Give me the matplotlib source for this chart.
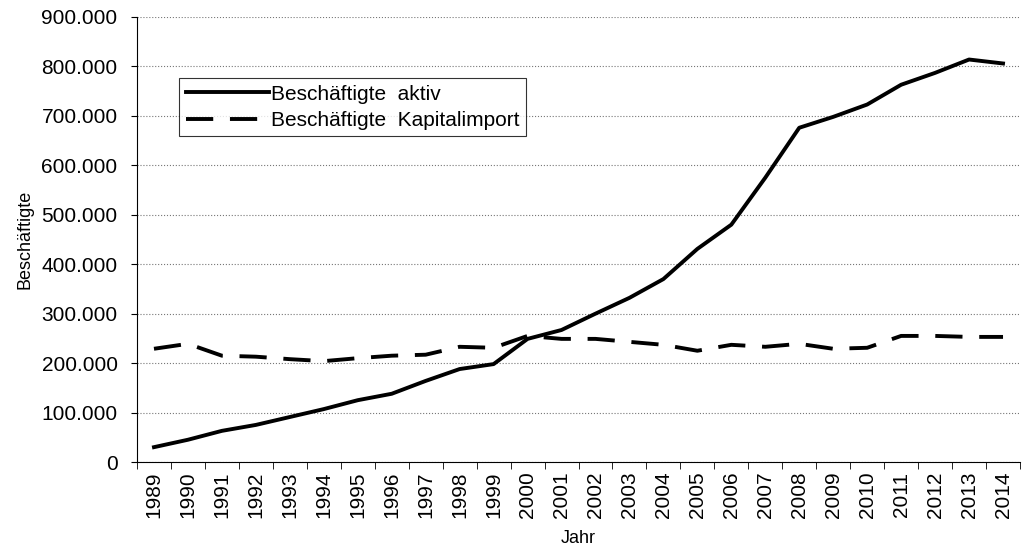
import numpy as np
import matplotlib.pyplot as plt
from matplotlib.ticker import FuncFormatter

plt.rcParams['font.family'] = ['Liberation Sans', 'DejaVu Sans']

# Daten
jahre = [str(j) for j in range(1989, 2015)]
aktiv = [30000, 45000, 63000, 75000, 91000, 107000, 125000, 138000, 164000, 188000,
         198000, 249000, 267000, 300000, 332000, 370000, 431000, 480000, 575000, 676000,
         698000, 723000, 763000, 787000, 814000, 806000]
kapitalimport = [229000, 239000, 215000, 213000, 208000, 204000, 210000, 215000, 217000, 233000,
                 231000, 255000, 249000, 249000, 243000, 237000, 225000, 237000, 233000, 239000,
                 229000, 231000, 255000, 255000, 253000, 253000]

fig = plt.figure(figsize=(10.23, 5.6), dpi=100)
ax = fig.add_axes([137/1023, 1 - 462/560, (1020-137)/1023, (462-17)/560])

x = np.arange(len(jahre))
ax.plot(x, aktiv, color='black', lw=2.8, label='Beschäftigte  aktiv')
ax.plot(x, kapitalimport, color='black', lw=2.8, dashes=(7, 4.3), label='Beschäftigte  Kapitalimport')

ax.set_xlim(-0.5, len(jahre) - 0.5)
ax.set_ylim(0, 900000)
ax.set_yticks(np.arange(0, 900001, 100000))
ax.yaxis.set_major_formatter(FuncFormatter(lambda v, p: f'{int(v):,}'.replace(',', '.')))

ax.set_xticks(x)
ax.set_xticklabels(jahre, rotation=90)
ax.set_xticks(np.arange(-0.5, len(jahre)), minor=True)
ax.tick_params(axis='x', which='major', length=0, pad=7, labelsize=15)
ax.tick_params(axis='x', which='minor', length=5, direction='out')
ax.tick_params(axis='y', length=4, pad=10, labelsize=15)

ax.grid(axis='y', linestyle=':', color='#777777', lw=0.8)
ax.set_axisbelow(True)
for s in ['top', 'right']:
    ax.spines[s].set_visible(False)

ax.set_xlabel('Jahr', fontsize=13, labelpad=8)
ax.set_ylabel('Beschäftigte', fontsize=13, labelpad=6)

leg = ax.legend(loc='upper left', bbox_to_anchor=(0.048, 0.862), fontsize=15,
                frameon=True, fancybox=False, edgecolor='black', handlelength=4.0,
                handletextpad=0.1, borderpad=0.3, labelspacing=0.35, borderaxespad=0)
leg.get_frame().set_linewidth(0.8)

fig.savefig('out.png', dpi=100)
